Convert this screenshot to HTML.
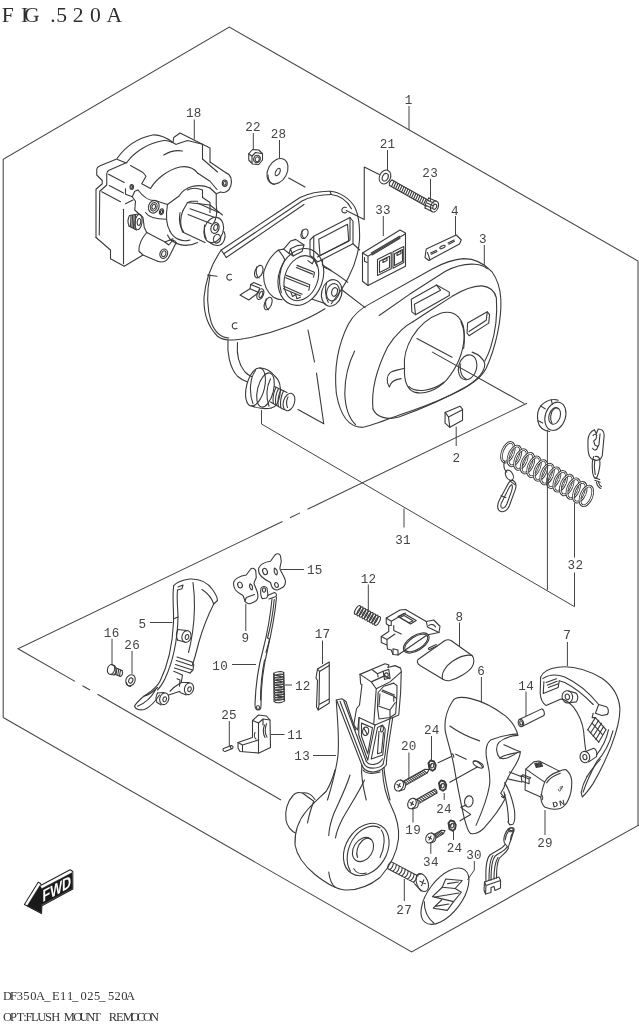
<!DOCTYPE html>
<html lang="en">
<head>
<meta charset="utf-8">
<title>FIG.520A OPT:FLUSH MOUNT REMOCON</title>
<style>
html,body{margin:0;padding:0;background:#fff;}
body{width:639px;height:1024px;overflow:hidden;position:relative;}
svg{position:absolute;left:0;top:0;display:block;filter:grayscale(1);}
.ln{vector-effect:non-scaling-stroke;fill:none;stroke:#3a3a3a;stroke-width:1.1;stroke-linecap:round;stroke-linejoin:round;}
.th{vector-effect:non-scaling-stroke;fill:none;stroke:#444;stroke-width:0.8;stroke-linecap:round;stroke-linejoin:round;}
.fr{fill:none;stroke:#444;stroke-width:1.05;stroke-linecap:butt;stroke-linejoin:miter;}
.ld{fill:none;stroke:#444;stroke-width:1;}
.wf{vector-effect:non-scaling-stroke;fill:#fff;stroke:#3a3a3a;stroke-width:1;stroke-linecap:round;stroke-linejoin:round;}
.ln *,.th *,.wf *,.fr *{vector-effect:non-scaling-stroke;}
.num{font-family:"Liberation Mono","DejaVu Sans Mono",monospace;font-size:12.6px;letter-spacing:0.3px;fill:#444;}
.ttl{font-family:"Liberation Serif","DejaVu Serif",serif;font-size:20px;fill:#2e2e2e;}
.ftr{font-family:"Liberation Serif","DejaVu Serif",serif;font-size:12px;fill:#333;}
</style>
</head>
<body>
<svg width="639" height="1024" viewBox="0 0 639 1024">
<rect x="0" y="0" width="639" height="1024" fill="#fff"/>

<!-- ===== TITLE / FOOTER TEXT ===== -->
<g id="titles">
<text class="ttl" transform="scale(1.08,1)" y="22.2" x="1.6 19.4 22.2 46.5 52.0 67.4 83.3 98.7">FIG.520A</text>
<text class="ftr" transform="scale(1.04,1)" y="1000.3" x="3.0 9.5 16.2 22.3 29.0 34.6 42.6 50.1 57.6 64.4 69.2 77.4 83.8 90.5 95.5 103.8 110.0 116.5 121.1">DF350A_E11_025_520A</text>
<text class="ftr" transform="scale(1.04,1)" y="1020.8" x="3.0 9.5 16.0 22.4 24.5 29.8 35.9 43.4 49.3 55.5 61.4 70.5 76.4 83.0 89.7 96.8 104.5 111.5 118.0 125.6 131.4 137.6 144.3">OPT:FLUSH MOUNT REMOCON</text>
</g>

<!-- ===== FRAME ===== -->
<g id="frame" class="fr">
<path d="M3.2 717.5 L3.2 159.3 L229.3 27 L638 261 L638 825.5"/>
<path d="M3.2 717.5 L411.6 952 L639 825"/>
<!-- inner triangle -->
<path d="M282.5 521.5 L18 648.7 L75 681.4"/>
<path d="M290 517.7 L300 512.9"/>
<path d="M307.5 509.3 L527 403.3"/>
<path d="M82.5 685.7 L90 690"/>
<path d="M97.5 694.3 L281 800"/>
</g>

<!-- part 18 : gear housing (frame A: origin 80,95 scale 1/4) -->
<g id="p18" class="ln" transform="translate(80,95) scale(0.25)">
<path d="M64 570 L64 377 L89 355 L89 342 L67 320 L67 297 Q68 288 78 284 L147 256 C170 222 215 176 290 160 C322 157 350 174 372 190"/>
<path d="M77 560 L79 385 L107 360 L107 315 Q108 305 116 301 L187 270"/>
<path d="M372 190 L375 170 L400 152 L520 212 L520 268"/>
<path d="M388 196 L430 182 L490 197 L490 256"/>
<path d="M150 258 L185 272"/>
<path d="M187 270 C215 230 270 192 335 182 C352 181 365 186 385 198"/>
<path d="M114 317 L177 350 M117 362 L174 392 M87 387 L162 427 M182 435 L212 420"/>
<path d="M174 457 L174 675"/>
<path d="M202 282 L252 310 L264 325 L247 355 L282 374"/>
<path d="M282 374 C305 335 350 300 400 288 C430 283 455 292 470 312"/>
<path d="M335 240 C360 225 385 220 410 224"/>
<path d="M470 312 L520 345 L548 378"/>
<path d="M490 256 L550 308"/>
<path d="M520 268 L585 312"/>
<path d="M585 312 C604 318 610 342 603 364 C597 384 580 394 562 388 L545 395"/>
<ellipse cx="579" cy="353" rx="10" ry="13"/>
<ellipse cx="579" cy="353" rx="5" ry="8"/>
<ellipse cx="207" cy="368" rx="7" ry="10"/>
<ellipse cx="207" cy="368" rx="3.5" ry="6"/>
<path d="M182 375 L182 397 L209 407 L222 425 L219 460 L252 490 L257 530 L267 550"/>
<path d="M209 407 L219 385 L232 380"/>
<!-- lower left block -->
<path d="M64 570 L122 620 L122 655 L177 685 L252 640"/>
<!-- knurled knob -->
<path d="M198 482 L232 476 M196 524 L226 540"/>
<path d="M198 482 C191 495 191 512 196 524"/>
<ellipse cx="234" cy="508" rx="14" ry="31" transform="rotate(8 234 508)"/>
<ellipse cx="236" cy="508" rx="7" ry="14" transform="rotate(8 236 508)"/>
<path d="M204 482 L202 527 M210 481 L208 530 M216 480 L214 533 M222 478 L220 536"/>
<!-- mid body -->
<path d="M232 380 C255 410 275 425 300 422"/>
<path d="M300 422 L350 438 L395 405"/>
<path d="M395 405 C420 368 470 350 520 372"/>
<path d="M350 438 C343 480 345 520 360 545"/>
<path d="M400 470 C395 500 400 530 415 548"/>
<path d="M430 380 C445 372 470 372 490 380 L490 410"/>
<path d="M520 372 L545 395 L545 440 C550 470 545 500 530 520"/>
<path d="M490 410 L520 430 L520 470"/>
<ellipse cx="295" cy="447" rx="21" ry="26" transform="rotate(20 295 447)"/>
<ellipse cx="295" cy="447" rx="13" ry="17" transform="rotate(20 295 447)"/>
<ellipse cx="295" cy="447" rx="7" ry="10" transform="rotate(20 295 447)"/>
<ellipse cx="326" cy="467" rx="8" ry="12" transform="rotate(15 326 467)"/>
<ellipse cx="326" cy="467" rx="4" ry="7" transform="rotate(15 326 467)"/>
<path d="M262 470 C275 490 300 497 345 497"/>
<!-- shaft -->
<path d="M412 462 L430 430 L520 440 L570 480"/>
<path d="M412 462 C400 490 400 520 410 548 L500 590"/>
<path d="M430 430 L445 425 L470 425"/>
<path d="M440 455 L540 490 M432 478 L525 515 M470 432 L555 470"/>
<ellipse cx="535" cy="540" rx="38" ry="52" transform="rotate(18 535 540)"/>
<ellipse cx="540" cy="532" rx="16" ry="22" transform="rotate(18 540 532)"/>
<ellipse cx="543" cy="530" rx="8" ry="12" transform="rotate(18 543 530)"/>
<path d="M498 520 C496 540 498 560 505 575"/>
<!-- ring under shaft -->
<path d="M360 545 C375 575 410 590 440 580"/>
<path d="M350 560 C365 595 420 615 470 590"/>
<path d="M575 545 C585 560 580 590 560 600 C545 605 530 600 520 590"/>
<ellipse cx="548" cy="575" rx="14" ry="18" transform="rotate(20 548 575)"/>
<!-- lower boss -->
<path d="M267 550 C248 572 234 600 236 625 L252 640 L310 665"/>
<path d="M267 550 L340 588 L372 575"/>
<path d="M310 665 C330 672 350 665 360 640 L385 590"/>
<path d="M340 588 L355 600 L372 580"/>
<path d="M360 580 C375 580 385 585 385 595"/>
<ellipse cx="335" cy="635" rx="15" ry="19" transform="rotate(20 335 635)"/>
<ellipse cx="335" cy="635" rx="8" ry="12" transform="rotate(20 335 635)"/>
</g>

<!-- back plate with hub (frame D: origin 200,190 scale 1/4) -->
<g id="plate" class="ln" transform="translate(200,190) scale(0.25)">
<path d="M85 240 L400 30 C440 12 480 4 520 5 C560 8 600 35 620 70 C634 100 640 150 638 200 C632 290 585 380 525 455"/>
<path d="M85 240 C50 290 22 360 16 430 C14 490 30 545 70 585 C95 605 130 602 180 594 C300 572 420 525 500 475"/>
<path d="M95 255 L408 44 C440 28 480 18 525 18"/>
<path d="M105 270 L416 58"/>
<path d="M85 240 L105 270"/>
<path d="M520 5 L525 18 C560 22 590 45 606 75"/>
<path d="M40 340 C28 400 26 470 45 530 C60 570 85 590 115 592"/>
<path d="M30 340 L68 345"/>
<path d="M125 338 C112 334 104 344 108 354 C112 362 120 362 126 358"/>
<path d="M147 532 C134 528 126 538 130 549 C134 557 142 557 148 553"/>
<path d="M585 70 C573 66 565 75 568 85 C572 93 580 93 586 89"/>
<!-- display window -->
<path d="M455 185 L600 110 L612 125 L612 215 L470 288 L455 272 Z"/>
<path d="M475 197 L590 137 L595 205 L480 262 Z"/>
<path d="M600 110 L600 200 L470 268"/>
<path d="M455 272 L440 262 L440 200 L455 185"/>
<path d="M490 280 L490 300 L525 322"/>
<path d="M612 215 L639 240"/>
<!-- holes -->
<ellipse cx="418" cy="175" rx="13" ry="20" transform="rotate(25 418 175)"/>
<path d="M410 160 C404 172 408 188 418 194"/>
<!-- key -->
<path d="M160 420 L200 395 L235 410 L195 440 Z"/>
<path d="M200 395 L203 378 L238 392 L235 410"/>
<path d="M203 378 L215 370 L245 383"/>
</g>

<!-- hub + bushing (frame X: origin 250,230 scale 100/639) -->
<g id="hub" class="ln" transform="translate(250,230) scale(0.1565)">
<ellipse cx="325" cy="300" rx="140" ry="186" transform="rotate(20 325 300)"/>
<ellipse cx="328" cy="308" rx="105" ry="148" transform="rotate(20 328 308)"/>
<path d="M215 122 L260 70 L292 60 L345 96 L332 138 L276 166 L250 150 L215 122 Z"/>
<path d="M250 150 L258 120 L300 100 L345 96 M258 120 L276 166"/>
<path d="M182 128 C150 150 110 200 88 268 C82 330 100 390 150 430 C170 442 190 446 205 446"/>
<path d="M215 122 L182 128 C200 150 215 170 222 190"/>
<path d="M222 190 C190 250 180 330 200 400"/>
<path d="M300 226 L412 270 L406 302 M296 240 L400 282 M232 290 L382 350 L376 386 M228 305 L372 362 M216 360 L332 410 M214 375 L322 420"/>
<path d="M370 196 L398 216 L410 190 L430 232 M262 400 L272 425 L292 412 L300 440 L322 430"/>
<!-- arm to bushing -->
<path d="M470 236 C510 252 570 290 625 335"/>
<path d="M398 442 L480 470"/>
<ellipse cx="522" cy="402" rx="64" ry="86" transform="rotate(15 522 402)"/>
<ellipse cx="530" cy="398" rx="40" ry="56" transform="rotate(15 530 398)"/>
<ellipse cx="540" cy="396" rx="18" ry="28" transform="rotate(15 540 396)"/>
<path d="M490 335 C478 370 480 430 500 462"/>
<!-- holes left of hub -->
<ellipse cx="56" cy="266" rx="24" ry="42" transform="rotate(22 56 266)"/>
<path d="M44 235 C34 262 40 295 58 306"/>
<ellipse cx="66" cy="410" rx="20" ry="36" transform="rotate(22 66 410)"/>
<ellipse cx="70" cy="412" rx="10" ry="22" transform="rotate(22 70 412)"/>
<ellipse cx="116" cy="470" rx="22" ry="42" transform="rotate(22 116 470)"/>
<path d="M104 440 C94 466 100 498 118 510"/>
</g>

<!-- cover 3 (frame E: origin 320,240 scale 180/639) -->
<g id="cover3" class="ln" transform="translate(320,240) scale(0.2817)">
<path d="M180 225 L400 102 C440 80 472 68 510 66 C550 66 585 85 610 112 C630 140 640 170 642 210 C645 280 625 380 590 455 C570 495 520 525 464 550 C400 580 330 605 284 620 C230 640 180 660 150 665 C105 665 72 625 58 545 C50 465 60 380 100 300 C120 262 150 240 180 225 Z"/>
<path d="M210 268 L319 192 L444 112 C480 92 520 84 550 86 C570 88 585 94 594 102"/>
<path d="M330 290 L384 255 L469 200 C510 175 545 162 575 163 C600 166 620 180 626 205 C630 260 622 330 606 380 C598 405 590 420 585 430"/>
<path d="M123 394 C100 440 88 490 88 545 C90 600 105 635 126 655"/>
<!-- recess boundary -->
<path d="M188 600 C182 540 200 460 240 380 C270 330 310 300 330 290"/>
<path d="M188 600 C200 630 240 640 280 628 C360 600 450 560 520 520 C560 495 585 465 585 440 C580 420 560 405 540 398"/>

<!-- big opening -->
<path d="M300 455 C292 385 340 292 428 260 C485 245 515 285 512 345 C508 405 485 455 448 498 C415 533 370 550 335 540 C310 530 298 500 300 455 Z"/>
<path d="M500 290 C512 315 515 350 510 385"/>
<path d="M300 455 C280 462 262 462 250 470 C236 482 235 505 246 522 C250 505 262 495 288 492"/>
<path d="M315 520 C340 545 400 535 440 505"/>
<!-- small circle -->
<ellipse cx="524" cy="452" rx="32" ry="45" transform="rotate(15 524 452)"/>
<path d="M498 440 C495 465 503 488 520 494"/>
<!-- window 1 -->
<path d="M324 210 L414 160 L459 185 L459 197 L339 265 L326 255 Z"/>
<path d="M414 160 L428 178 L335 228 L339 265"/>
<!-- window 2 -->
<path d="M524 295 L594 255 L602 265 L599 295 L529 340 L522 330 Z"/>
<path d="M594 255 L590 285 L529 325"/>
<!-- leaders through opening -->
<path d="M344 350 L469 416"/>
<path d="M399 398 L724 580"/>
<path d="M75 175 L160 240"/>
</g>
<!-- part 2 cap + ring 31 (frame F: origin 400,240 scale 180/639) -->
<g id="cap2" class="ln" transform="translate(400,240) scale(0.2817)">
<path d="M160 612 L213 590 L222 600 L222 640 L177 665 L160 650 Z"/>
<path d="M160 612 L172 628 L222 603 M172 628 L177 665"/>
</g>

<!-- parts 21, 23, 33, 4 (frame G: origin 340,130 scale 1/4) -->
<g id="small_top" class="ln" transform="translate(340,130) scale(0.25)">
<!-- washer 21 -->
<ellipse cx="180" cy="188" rx="22" ry="29" transform="rotate(25 180 188)"/>
<ellipse cx="181" cy="189" rx="11" ry="16" transform="rotate(25 181 189)"/>
<path d="M157 178 L97 148 L97 358 L25 322"/>
<!-- screw 23 -->
<path d="M208 200 L355 282 M198 222 L345 305"/>
<path d="M208 200 C200 205 196 214 198 222"/>
<path d="M216 205 L206 226 M224 209 L214 231 M232 214 L222 235 M240 218 L230 240 M248 223 L238 244 M256 227 L246 249 M264 232 L254 253 M272 236 L262 258 M280 241 L270 262 M288 245 L278 267 M296 250 L286 271 M304 254 L294 276 M312 259 L302 280 M320 263 L310 285 M328 268 L318 289 M336 272 L326 294 M344 277 L334 298"/>
<path d="M355 272 L385 285 M340 312 L368 326"/>
<path d="M355 272 C345 285 340 300 340 312"/>
<ellipse cx="378" cy="306" rx="15" ry="23" transform="rotate(22 378 306)"/>
<ellipse cx="379" cy="307" rx="7" ry="11" transform="rotate(22 379 307)"/>
<path d="M352 282 L375 292 M348 292 L370 302 M345 302 L368 313"/>
<!-- part 33 switch panel -->
<path d="M90 492 L240 400 L262 412 L262 545 L112 622 L90 605 Z"/>
<path d="M90 492 L112 505 L262 415 M112 505 L112 622"/>
<path d="M125 492 L238 425 M128 500 L240 433"/>
<path d="M150 518 L205 490 L205 555 L150 582 Z"/>
<path d="M212 487 L255 466 L255 530 L212 553 Z"/>
<path d="M158 525 L198 505 L198 550 L158 570 Z"/>
<path d="M218 495 L250 478 L250 525 L218 542 Z"/>
<path d="M172 520 L188 512 L188 522 L172 530 Z M228 492 L244 484 L244 494 L228 502 Z"/>
<path d="M98 510 L98 525 L108 530"/>
<!-- part 4 label plate -->
<path d="M345 476 L465 420 L485 440 L478 456 L355 522 L340 510 Z"/>
<path d="M350 490 L360 520"/>
<path d="M362 492 L386 481 M432 452 L456 440"/>
<path d="M365 497 L388 486 M435 457 L458 445"/>
<ellipse cx="410" cy="468" rx="12" ry="5" transform="rotate(-27 410 468)"/>
</g>
<!-- parts 22 nut, 28 washer (frame B: origin 190,100 scale 1/4) -->
<g id="p22_28" class="ln" transform="translate(190,100) scale(0.25)">
<path d="M235 215 L250 198 L275 200 L290 215 L290 240 L275 258 L250 256 L235 240 Z"/>
<path d="M235 215 L248 225 L248 250 M248 225 L262 210 L290 215"/>
<ellipse cx="268" cy="236" rx="13" ry="15" transform="rotate(20 268 236)"/>
<ellipse cx="269" cy="237" rx="8" ry="10" transform="rotate(20 269 237)"/>
<ellipse cx="350" cy="285" rx="38" ry="54" transform="rotate(28 350 285)"/>
<ellipse cx="351" cy="288" rx="8" ry="16" transform="rotate(28 351 288)"/>
<path d="M312 300 C312 320 322 335 338 338"/>
<path d="M395 312 L460 348"/>
</g>

<!-- connector + cable (frame H: origin 200,330 scale 1/4) -->
<g id="connector" class="ln" transform="translate(200,330) scale(0.25)">
<path d="M112 40 C108 90 118 150 150 185 C165 198 180 205 190 208"/>
<path d="M150 50 C146 95 156 140 180 168 C190 178 200 184 206 186"/>
<ellipse cx="222" cy="228" rx="36" ry="78" transform="rotate(14 222 228)"/>
<path d="M238 152 C258 150 285 165 300 185 M205 303 C225 312 262 318 285 312"/>
<path d="M222 162 C200 190 195 250 212 295"/>
<ellipse cx="262" cy="240" rx="32" ry="70" transform="rotate(14 262 240)"/>
<path d="M300 185 C318 200 325 225 320 258 C315 290 302 310 285 312"/>
<path d="M282 195 C266 228 264 270 276 305"/>
<path d="M298 226 L348 250 M282 288 L335 318"/>
<path d="M304 230 C294 250 290 272 293 293 M314 234 C304 254 300 278 303 298 M324 239 C314 259 310 283 313 304 M334 244 C324 264 320 288 323 310"/>
<ellipse cx="356" cy="288" rx="22" ry="36" transform="rotate(18 356 288)"/>
<path d="M352 268 C345 282 345 298 350 310"/>
<!-- phantom housing lines -->
<path d="M432 0 L458 128 M466 172 L495 375 L392 318"/>
</g>

<!-- lanyard 32 (frame I: origin 480,410 scale 159/639) -->
<g id="lanyard" transform="translate(480,410) scale(0.2488)">
<g fill="none" stroke-linecap="round">
<ellipse cx="112.0" cy="170.0" rx="22" ry="42" transform="rotate(22 112.0 170.0)" stroke="#3a3a3a" stroke-width="10.5"/>
<ellipse cx="112.0" cy="170.0" rx="22" ry="42" transform="rotate(22 112.0 170.0)" stroke="#fff" stroke-width="3.6"/>
<ellipse cx="138.3" cy="184.6" rx="22" ry="42" transform="rotate(22 138.3 184.6)" stroke="#3a3a3a" stroke-width="10.5"/>
<ellipse cx="138.3" cy="184.6" rx="22" ry="42" transform="rotate(22 138.3 184.6)" stroke="#fff" stroke-width="3.6"/>
<ellipse cx="164.6" cy="199.2" rx="22" ry="42" transform="rotate(22 164.6 199.2)" stroke="#3a3a3a" stroke-width="10.5"/>
<ellipse cx="164.6" cy="199.2" rx="22" ry="42" transform="rotate(22 164.6 199.2)" stroke="#fff" stroke-width="3.6"/>
<ellipse cx="190.9" cy="213.8" rx="22" ry="42" transform="rotate(22 190.9 213.8)" stroke="#3a3a3a" stroke-width="10.5"/>
<ellipse cx="190.9" cy="213.8" rx="22" ry="42" transform="rotate(22 190.9 213.8)" stroke="#fff" stroke-width="3.6"/>
<ellipse cx="217.2" cy="228.4" rx="22" ry="42" transform="rotate(22 217.2 228.4)" stroke="#3a3a3a" stroke-width="10.5"/>
<ellipse cx="217.2" cy="228.4" rx="22" ry="42" transform="rotate(22 217.2 228.4)" stroke="#fff" stroke-width="3.6"/>
<ellipse cx="243.5" cy="243.0" rx="22" ry="42" transform="rotate(22 243.5 243.0)" stroke="#3a3a3a" stroke-width="10.5"/>
<ellipse cx="243.5" cy="243.0" rx="22" ry="42" transform="rotate(22 243.5 243.0)" stroke="#fff" stroke-width="3.6"/>
<ellipse cx="269.8" cy="257.6" rx="22" ry="42" transform="rotate(22 269.8 257.6)" stroke="#3a3a3a" stroke-width="10.5"/>
<ellipse cx="269.8" cy="257.6" rx="22" ry="42" transform="rotate(22 269.8 257.6)" stroke="#fff" stroke-width="3.6"/>
<ellipse cx="296.1" cy="272.2" rx="22" ry="42" transform="rotate(22 296.1 272.2)" stroke="#3a3a3a" stroke-width="10.5"/>
<ellipse cx="296.1" cy="272.2" rx="22" ry="42" transform="rotate(22 296.1 272.2)" stroke="#fff" stroke-width="3.6"/>
<ellipse cx="322.4" cy="286.8" rx="22" ry="42" transform="rotate(22 322.4 286.8)" stroke="#3a3a3a" stroke-width="10.5"/>
<ellipse cx="322.4" cy="286.8" rx="22" ry="42" transform="rotate(22 322.4 286.8)" stroke="#fff" stroke-width="3.6"/>
<ellipse cx="348.7" cy="301.4" rx="22" ry="42" transform="rotate(22 348.7 301.4)" stroke="#3a3a3a" stroke-width="10.5"/>
<ellipse cx="348.7" cy="301.4" rx="22" ry="42" transform="rotate(22 348.7 301.4)" stroke="#fff" stroke-width="3.6"/>
<ellipse cx="375.0" cy="316.0" rx="22" ry="42" transform="rotate(22 375.0 316.0)" stroke="#3a3a3a" stroke-width="10.5"/>
<ellipse cx="375.0" cy="316.0" rx="22" ry="42" transform="rotate(22 375.0 316.0)" stroke="#fff" stroke-width="3.6"/>
<ellipse cx="401.3" cy="330.6" rx="22" ry="42" transform="rotate(22 401.3 330.6)" stroke="#3a3a3a" stroke-width="10.5"/>
<ellipse cx="401.3" cy="330.6" rx="22" ry="42" transform="rotate(22 401.3 330.6)" stroke="#fff" stroke-width="3.6"/>
<ellipse cx="427.6" cy="345.2" rx="22" ry="42" transform="rotate(22 427.6 345.2)" stroke="#3a3a3a" stroke-width="10.5"/>
<ellipse cx="427.6" cy="345.2" rx="22" ry="42" transform="rotate(22 427.6 345.2)" stroke="#fff" stroke-width="3.6"/>
</g>
<g class="ln">
<path d="M100 205 C92 220 96 240 108 250"/>
<ellipse cx="118" cy="262" rx="14" ry="22" transform="rotate(-30 118 262)"/>
<path d="M132 282 C145 290 148 305 140 325 L118 385 C110 405 92 415 78 405 C68 395 70 378 78 362 L112 298 C118 288 126 282 132 282 Z"/>
<path d="M128 300 C132 308 130 318 126 328 L108 378 C102 392 92 398 86 392 C82 386 84 376 90 366 L118 310 C122 304 125 300 128 300 Z"/>
<path d="M120 285 L140 300 M84 345 L104 352"/>
</g>
</g>

<!-- ring nut + key clip (frame V: origin 520,385 scale 119/639) -->
<g id="pV" class="ln" transform="translate(520,385) scale(0.1862)">
<ellipse cx="190" cy="168" rx="54" ry="78" transform="rotate(18 190 168)"/>
<ellipse cx="186" cy="166" rx="30" ry="46" transform="rotate(18 186 166)"/>
<path d="M172 205 C160 185 162 150 180 130 C190 122 200 122 206 128"/>
<path d="M205 82 C180 72 145 82 118 105 C98 125 90 160 96 195 C102 225 125 245 160 250"/>
<path d="M168 80 L174 104 M98 192 L122 204 M110 112 L135 128"/>
<!-- key clip -->
<path d="M365 292 C368 268 382 248 400 240 L410 262 L420 236 C438 236 452 248 452 270 L442 378 C438 395 425 404 408 405 L384 396 C372 385 365 360 365 335 Z"/>
<path d="M392 272 C398 262 408 262 412 270 L408 290 L396 300 L402 322 L418 330 M430 262 L424 320 L412 345 C405 352 395 350 390 340"/>
<path d="M396 384 C388 400 386 430 390 470 C394 495 404 505 412 498 C424 470 432 430 428 398 C424 388 414 382 404 384"/>
<path d="M402 400 C398 425 398 455 404 480"/>
<path d="M400 498 L428 508 M402 512 L430 522"/>
<path d="M410 522 C414 540 424 552 434 556 M422 524 C426 536 432 544 438 546"/>
</g>

<!-- part 5, 16, 26 (frame J: origin 90,565 scale 1/4) -->
<g id="p5" class="ln" transform="translate(90,565) scale(0.25)">
<path d="M335 82 C345 70 370 60 400 56 C440 54 470 70 490 98 C502 115 510 130 510 142 L495 156 C488 135 470 112 448 98"/>
<path d="M335 82 C328 130 336 180 334 230 C330 320 312 400 280 465 C265 495 240 508 215 525 C198 540 182 555 178 565 C182 578 200 582 218 578 C240 568 262 545 278 520"/>
<path d="M350 100 C346 140 352 180 352 208 L338 214"/>
<path d="M352 88 L372 80 L368 95 L350 100"/>
<path d="M495 156 C475 195 452 250 435 310 C425 350 415 385 410 398"/>
<path d="M412 70 C420 130 420 200 410 270 C404 310 398 335 394 350"/>
<path d="M352 208 C350 300 330 390 300 455 C290 475 280 490 270 500"/>
<path d="M215 525 C235 520 255 505 270 490"/>
<path d="M190 565 C215 555 245 530 262 500"/>
<!-- upper boss -->
<path d="M352 258 L385 262 M350 300 L378 308"/>
<path d="M352 258 C345 270 345 288 350 300"/>
<ellipse cx="386" cy="286" rx="18" ry="24" transform="rotate(15 386 286)"/>
<ellipse cx="388" cy="288" rx="7" ry="10" transform="rotate(15 388 288)"/>
<!-- ribs -->
<path d="M348 368 L408 388 M345 382 L412 404 M342 398 L410 420 M338 412 L400 432"/>
<path d="M408 388 L415 398 L412 420 L400 432"/>
<path d="M335 425 L370 440 L365 470 L335 490"/>
<path d="M348 455 L360 460 L358 485"/>
<!-- lower bosses -->
<path d="M365 470 L395 470 M360 510 L385 520"/>
<ellipse cx="396" cy="495" rx="18" ry="24" transform="rotate(15 396 495)"/>
<ellipse cx="398" cy="497" rx="7" ry="10" transform="rotate(15 398 497)"/>
<path d="M270 512 L295 510 M268 550 L285 560"/>
<path d="M270 512 C263 525 263 540 268 550"/>
<ellipse cx="297" cy="535" rx="18" ry="24" transform="rotate(15 297 535)"/>
<ellipse cx="299" cy="537" rx="7" ry="10" transform="rotate(15 299 537)"/>
<path d="M315 520 L360 505 M335 490 L320 505"/>
<!-- screw 16 -->
<ellipse cx="84" cy="418" rx="14" ry="20" transform="rotate(15 84 418)"/>
<path d="M84 398 L98 402 C106 410 106 430 98 440 L84 438"/>
<path d="M100 410 L128 422 M96 436 L122 446"/>
<path d="M128 422 C132 430 130 440 122 446"/>
<path d="M108 414 L104 438 M115 417 L111 441 M122 420 L118 444"/>
<!-- washer 26 -->
<ellipse cx="162" cy="461" rx="18" ry="23" transform="rotate(25 162 461)"/>
<ellipse cx="163" cy="462" rx="8" ry="11" transform="rotate(25 163 462)"/>
<path d="M146 470 C148 480 155 486 163 486"/>
</g>

<!-- parts 9,15,10,12,17,11,25 (frame K: origin 205,550 scale 1/4) -->
<g id="pK" class="ln" transform="translate(205,550) scale(0.25)">
<path d="M115 128 C122 112 140 104 165 100 L183 76 C190 70 200 74 203 84 L205 110 C202 120 196 126 196 134 C200 148 210 160 212 182 C212 196 206 204 196 208 L180 215 C168 215 160 208 158 198 L152 182 C142 176 130 170 122 160 C115 150 113 138 115 128 Z"/>
<ellipse cx="140" cy="140" rx="9" ry="12" transform="rotate(-20 140 140)"/>
<path d="M180 135 C176 145 180 158 188 160 C192 150 190 140 180 135 Z"/>
<path d="M160 205 L165 190 L198 178"/>
<path d="M215 72 C222 56 240 48 262 45 L280 20 C288 12 298 14 302 24 L305 45 C304 58 298 66 300 76 C306 92 318 106 322 124 C322 140 316 148 306 152 L290 160 C278 160 270 154 266 144 L262 130 C250 124 236 116 226 106 C216 96 213 82 215 72 Z"/>
<ellipse cx="240" cy="86" rx="9" ry="13" transform="rotate(-20 240 86)"/>
<path d="M278 72 C274 84 278 98 287 100 C291 90 289 78 278 72 Z"/>
<ellipse cx="286" cy="140" rx="7" ry="10" transform="rotate(-20 286 140)"/>
<path d="M224 152 C230 144 242 144 248 152 L252 182 L246 192 L230 195 C224 190 220 170 224 152 Z"/>
<ellipse cx="236" cy="160" rx="6" ry="9"/>
<path d="M250 182 L278 170 C285 172 288 180 284 186 L256 196"/>
<path d="M268 195 C262 260 250 330 232 400 C215 460 203 520 200 618 C200 632 206 640 213 640 C220 640 224 632 224 622 C224 530 232 470 250 400 C266 330 280 260 286 190"/>
<path d="M277 198 C272 250 262 310 250 352 L258 356 C254 375 248 395 244 410"/>
<path d="M238 440 C228 490 222 540 222 600"/>
<ellipse cx="212" cy="630" rx="6" ry="8"/>
<ellipse cx="295.0" cy="494" rx="20" ry="7" transform="rotate(-8 295 494)"/>
<ellipse cx="295.3" cy="504" rx="20" ry="7" transform="rotate(-8 295 504)"/>
<ellipse cx="295.6" cy="514" rx="20" ry="7" transform="rotate(-8 295 514)"/>
<ellipse cx="295.9" cy="524" rx="20" ry="7" transform="rotate(-8 295 524)"/>
<ellipse cx="296.2" cy="534" rx="20" ry="7" transform="rotate(-8 295 534)"/>
<ellipse cx="296.5" cy="544" rx="20" ry="7" transform="rotate(-8 295 544)"/>
<ellipse cx="296.8" cy="554" rx="20" ry="7" transform="rotate(-8 295 554)"/>
<ellipse cx="297.1" cy="564" rx="20" ry="7" transform="rotate(-8 295 564)"/>
<ellipse cx="297.4" cy="574" rx="20" ry="7" transform="rotate(-8 295 574)"/>
<ellipse cx="297.7" cy="584" rx="20" ry="7" transform="rotate(-8 295 584)"/>
<ellipse cx="298.0" cy="594" rx="20" ry="7" transform="rotate(-8 295 594)"/>
<ellipse cx="298.3" cy="604" rx="20" ry="7" transform="rotate(-8 295 604)"/>
<path d="M275 492 L276 606 M315 490 L318 604"/>
<path d="M450 476 L497 448 L497 612 L453 640 L446 628 L450 522 L444 512 Z"/>
<path d="M450 476 L458 486 L497 462 M458 486 L456 618 L453 640 M456 618 L497 596"/>
<path d="M190 682 L214 660 L246 664 L260 680 L262 790 L216 812 L140 806 L132 792 L132 770 L190 750 Z"/>
<path d="M190 682 L214 692 L214 812 M214 692 L232 676 L260 680 M232 676 L232 700"/>
<path d="M132 770 L150 780 L214 760 M150 780 L150 806"/>
<path d="M238 700 C232 715 232 735 240 750 M246 695 C240 712 240 735 248 748"/>
<path d="M200 730 C196 740 198 752 204 756"/>
<path d="M74 794 L106 782 C112 782 114 790 110 794 L80 806 C72 806 70 798 74 794 Z"/>
<path d="M104 783 C100 788 102 794 108 795"/>
</g>

<!-- part 13 upper (frame U: origin 335,655 scale 1/8) -->
<g id="p13u" class="ln" transform="translate(335,655) scale(0.125)">
<!-- top box -->
<path d="M200 155 L400 70 L432 80 L422 100 L480 85 L525 105 L530 130 L525 300 L510 480 L440 510 L320 560"/>
<path d="M200 155 L205 232 L216 236 L196 400 L172 430 L150 560 L182 600 L192 500 L320 560"/>
<path d="M200 155 L290 215 L400 165 L440 190 M290 215 L330 270 L440 215 L530 135"/>
<path d="M330 270 L310 552"/>
<path d="M300 120 L340 150 L345 175 M340 150 L385 130"/>
<path d="M385 130 L430 115 L440 182 L396 196 Z"/>
<ellipse cx="411" cy="160" rx="15" ry="17"/>
<path d="M345 300 L390 250 L470 225 L496 246 L495 330 L485 470 L440 500 L352 512 L340 420 Z"/>
<path d="M375 290 L470 330 L490 346 M380 280 L475 320 M470 330 L470 370"/>
<path d="M350 410 L440 440 L482 380 M440 440 L440 500"/>
<path d="M360 310 L352 400"/>
<!-- V arms -->
<path d="M10 360 C16 480 36 640 24 800 C12 920 -30 1060 -60 1160"/>
<path d="M10 360 L55 350 L88 372 L130 500 L165 600"/>
<path d="M15 366 L215 880 C225 915 250 932 290 935 C330 938 370 920 392 900"/>
<path d="M40 370 L232 870 M70 366 L250 850"/>
<path d="M232 870 C245 895 270 905 300 905 C340 905 370 895 385 872"/>
<path d="M250 850 C262 870 285 878 310 875 C345 870 368 855 380 830"/>
<path d="M440 510 L420 640 L400 800 L385 872"/>
<path d="M462 500 L440 640 L416 800 L410 880 L392 900"/>
<path d="M392 900 C395 960 410 1040 440 1160"/>
<path d="M215 880 C205 960 225 1060 250 1160"/>
<path d="M192 500 L190 640 L262 842 L320 560"/>
<path d="M212 545 L300 582 L262 790 L212 650 Z"/>
<ellipse cx="245" cy="610" rx="24" ry="34" transform="rotate(12 245 610)"/>
<path d="M232 588 L258 634"/>
<path d="M340 580 L380 560 L402 592 L382 800 L290 832 Z"/>
<path d="M352 610 L340 790 L372 780 L388 620"/>
<ellipse cx="376" cy="592" rx="11" ry="24" transform="rotate(8 376 592)"/>
</g>
<!-- part 13 lower (frame M: origin 270,770 scale 1/4) -->
<g id="p13l" class="ln" transform="translate(270,770) scale(0.25)">
<path d="M450 0 C452 50 462 100 485 145 C505 185 518 230 514 275 C508 330 480 385 440 430 C400 462 350 482 300 480 C260 476 220 450 180 418 C140 385 108 345 100 300 C98 250 115 200 145 165 C170 135 205 105 225 85 C240 60 252 30 260 0"/>
<path d="M175 125 L130 92 C115 88 100 92 92 102 C70 125 58 165 64 200 C68 225 85 245 102 252"/>
<path d="M130 92 C150 88 168 100 180 118"/>
<path d="M320 20 C305 70 275 130 255 175 C242 210 236 240 235 262"/>
<path d="M378 40 C355 90 315 150 290 195 C275 225 265 250 262 272"/>
<path d="M175 125 C162 160 154 190 150 212"/>
<path d="M372 0 C380 14 410 18 440 8"/>
<ellipse cx="385" cy="318" rx="82" ry="112" transform="rotate(32 385 318)"/>
<path d="M322 405 C300 370 305 310 340 265 C370 228 415 215 440 232"/>
<path d="M335 395 C345 412 365 418 385 412"/>
<ellipse cx="372" cy="318" rx="38" ry="52" transform="rotate(32 372 318)"/>
<path d="M350 350 C342 330 350 300 370 282 C382 272 395 270 402 278"/>
<path d="M235 408 C238 435 246 458 262 470"/>
<path d="M445 240 C462 262 460 310 440 350"/>
</g>

<!-- upper spring 12, part 8 (frame N: origin 340,560 scale 1/4) -->
<g id="pN" class="ln" transform="translate(340,560) scale(0.25)">
<ellipse cx="70.0" cy="200.0" rx="8" ry="20" transform="rotate(30 70.0 200.0)"/>
<ellipse cx="80.0" cy="205.5" rx="8" ry="20" transform="rotate(30 80.0 205.5)"/>
<ellipse cx="90.0" cy="211.0" rx="8" ry="20" transform="rotate(30 90.0 211.0)"/>
<ellipse cx="100.0" cy="216.5" rx="8" ry="20" transform="rotate(30 100.0 216.5)"/>
<ellipse cx="110.0" cy="222.0" rx="8" ry="20" transform="rotate(30 110.0 222.0)"/>
<ellipse cx="120.0" cy="227.5" rx="8" ry="20" transform="rotate(30 120.0 227.5)"/>
<ellipse cx="130.0" cy="233.0" rx="8" ry="20" transform="rotate(30 130.0 233.0)"/>
<ellipse cx="140.0" cy="238.5" rx="8" ry="20" transform="rotate(30 140.0 238.5)"/>
<ellipse cx="150.0" cy="244.0" rx="8" ry="20" transform="rotate(30 150.0 244.0)"/>
<path d="M185 232 L240 200 L262 198 L345 246 L375 240 L400 265 L396 290 L348 300 L232 380 L212 378 L205 360 L190 356 L188 340 L165 330 L165 306 L195 286 L195 262 L185 255 Z"/>
<path d="M185 232 L205 245 L262 212 M205 245 L205 262 L195 262"/>
<path d="M232 226 L256 214 L305 242 L282 256 Z M240 230 L256 222 L292 243 L276 251 Z"/>
<path d="M215 262 L215 282 L245 296 M165 306 L188 318 L188 340 M188 318 L220 296"/>
<path d="M345 246 L350 268 L396 290 M355 262 C365 255 378 258 382 268"/>
<path d="M212 378 L212 355 L232 360 L232 380"/>
<ellipse cx="305" cy="332" rx="58" ry="30" transform="rotate(-33 305 332)"/>
<ellipse cx="305" cy="332" rx="52" ry="25" transform="rotate(-33 305 332)"/>
<path d="M312 398 L420 322 C428 318 436 318 444 322 L528 382 C538 392 538 412 528 428 C515 448 470 475 440 482 C428 484 418 482 410 476 L320 422 C310 415 306 405 312 398 Z"/>
<path d="M410 476 C405 455 420 425 450 405 C480 385 510 378 528 382"/>
<path d="M355 352 L385 338 M358 358 L388 344 M355 352 C352 356 354 358 358 358"/>
</g>

<!-- part 6 (frame P: origin 435,690 scale 100/639) -->
<g id="p6" class="ln" transform="translate(435,690) scale(0.1565)">
<path d="M130 55 C150 45 190 46 230 55 C300 72 380 112 450 165 C490 200 520 245 530 290 C490 292 440 308 408 335 C388 360 388 405 415 435 C440 445 480 432 525 400 L545 395 C545 425 525 465 495 510 C470 550 450 590 440 625 L420 660 L450 692 C420 750 370 820 310 885 C285 910 250 925 225 915 C205 895 195 850 185 810 C165 720 140 600 120 480 C105 400 80 330 66 265 C58 200 75 130 110 75 C116 65 122 59 130 55 Z"/>
<path d="M95 230 C140 262 210 300 285 325"/>
<path d="M525 282 C470 285 400 300 355 320 C325 345 322 400 332 450 C345 500 355 560 348 610 C335 690 300 780 262 865"/>
<path d="M440 350 L520 385 L545 395 M415 435 C430 420 470 410 520 402"/>
<path d="M445 592 C475 640 495 700 508 770 C512 810 508 845 498 858 L478 862 L465 842"/>
<path d="M440 650 C455 700 468 760 470 840"/>
<path d="M425 680 L440 690 L448 668"/>
<ellipse cx="276" cy="476" rx="36" ry="17" transform="rotate(28 276 476)"/>
<path d="M245 455 C262 450 295 470 305 495"/>
<ellipse cx="216" cy="712" rx="27" ry="36" transform="rotate(10 216 712)"/>
<!-- leaders from washers -->
<path d="M20 465 L105 425 M132 410 L200 442 M95 590 L270 492"/>
<path d="M105 410 C112 405 120 410 120 430"/>
<path d="M200 735 L165 750 L228 795 L160 836"/>
<!-- rod to switch -->
<!-- wire bottom -->
<path d="M468 905 C455 920 450 940 448 958 M505 900 C492 915 484 938 482 958"/>
<ellipse cx="488" cy="893" rx="18" ry="12" transform="rotate(-20 488 893)"/>
</g>

<!-- parts 7, 14, 29 (frame Q: origin 499,630 scale 140/639) -->
<g id="pQ" class="ln" transform="translate(499,630) scale(0.2191)">
<!-- part 7 -->
<path d="M190 215 C200 190 230 175 270 170 C330 162 400 180 470 220 C520 255 548 300 552 360 C552 420 535 470 512 530 C490 585 460 650 430 700 C410 730 395 750 380 762 L375 742 C380 715 390 690 402 668"/>
<path d="M190 215 L188 290 C190 315 200 335 215 345 L280 316 C300 312 320 330 340 352 C365 385 380 420 386 460 C390 500 392 530 396 548"/>
<path d="M200 222 C225 205 260 200 300 215 C350 238 410 285 455 340"/>
<path d="M205 235 L202 290 L270 262 L275 232 M215 240 L262 222 M220 252 L265 234 M225 262 L268 246"/>
<path d="M275 232 L300 240 C330 255 380 290 430 340"/>
<path d="M455 340 L490 350 C500 355 502 375 495 385 L470 390 M455 340 L440 380 L470 390"/>
<path d="M520 460 C505 520 475 570 445 602 C425 640 400 690 384 740"/>
<path d="M500 455 C490 500 470 540 445 570"/>
<path d="M402 668 C420 640 440 615 462 590"/>
<!-- upper boss -->
<ellipse cx="312" cy="305" rx="24" ry="28" transform="rotate(-10 312 305)"/>
<ellipse cx="312" cy="305" rx="10" ry="13" transform="rotate(-10 312 305)"/>
<path d="M318 278 L352 288 C362 298 362 318 352 328 L322 332"/>
<!-- ribs -->
<path d="M405 455 L440 400 M418 470 L455 412 M430 485 L468 425 M442 500 L478 440 M455 512 L488 455"/>
<path d="M405 455 L455 512 M440 400 L488 455 M425 425 L472 478"/>
<path d="M430 380 L425 400 L440 400"/>
<!-- lower boss -->
<ellipse cx="392" cy="580" rx="22" ry="26" transform="rotate(-15 392 580)"/>
<ellipse cx="392" cy="580" rx="9" ry="12" transform="rotate(-15 392 580)"/>
<path d="M396 555 L432 540 C445 545 450 562 445 578 L410 602"/>
<!-- pin 14 -->
<path d="M92 408 L195 360 C205 362 210 378 205 390 L105 440"/>
<ellipse cx="100" cy="424" rx="12" ry="17" transform="rotate(-15 100 424)"/>
<ellipse cx="101" cy="424" rx="6" ry="10" transform="rotate(-15 101 424)"/>
</g>

<!-- part 29 switch (frame W: origin 500,750 scale 100/639) -->
<g id="p29" transform="translate(500,750) scale(0.1565)">
<g class="ln">
<path d="M165 122 L215 76 L250 70 L380 135 C395 128 410 124 422 126 C440 140 455 165 458 195 C460 240 452 285 438 315 C425 345 405 365 388 372 C365 380 320 378 288 366 C272 355 264 335 260 300 L160 256 Z"/>
<path d="M165 122 L285 205 C300 175 335 150 380 135"/>
<path d="M285 205 C272 240 265 275 262 300"/>
<path d="M298 210 C312 185 345 162 385 148"/>
<path d="M222 86 L262 80 L272 104 L232 112 Z M232 84 L240 110 M244 82 L252 108 M254 81 L262 106 M225 94 L268 88 M228 103 L270 97"/>
<path d="M262 285 C272 290 276 305 270 318"/>
<path d="M135 165 L186 186 L186 216 L140 200 Z M135 165 L148 158 L196 178 L186 186"/>
<path d="M60 140 L135 170 M55 186 L140 205"/>
</g>
<text transform="translate(378,268) rotate(-38)" font-family="'Liberation Sans','DejaVu Sans',sans-serif" font-weight="bold" font-style="italic" font-size="30" fill="#333">UP</text>
<text transform="translate(340,368) rotate(-14)" font-family="'Liberation Sans','DejaVu Sans',sans-serif" font-weight="bold" font-size="48" fill="#333" letter-spacing="10">DN</text>
</g>

<!-- screws 20,19,34,27, washers 24, emblem 30, wires (frame R: origin 385,745 scale 1/4) -->
<g id="pR" class="ln" transform="translate(385,745) scale(0.25)">
<ellipse cx="56" cy="162" rx="17" ry="23" transform="rotate(25 56 162)"/>
<path d="M62 140 L76 146 C84 154 84 170 76 178 L58 184"/>
<path d="M48 158 L62 166 M52 170 L60 154"/>
<path d="M84.4 159.8 L168.6 112.5 L176.0 98.0 L159.8 96.8 L75.6 144.2 M90.7 156.3 L76.4 143.7 M97.7 152.4 L83.4 139.8 M104.7 148.4 L90.4 135.8 M111.7 144.5 L97.4 131.9 M118.7 140.5 L104.4 127.9 M125.8 136.6 L111.4 124.0 M132.8 132.6 L118.5 120.0 M139.8 128.7 L125.5 116.1 M146.8 124.7 L132.5 112.1 M153.8 120.8 L139.5 108.2 M160.9 116.8 L146.5 104.2 M167.9 112.9 L153.6 100.3"/>
<ellipse cx="108" cy="234" rx="16" ry="22" transform="rotate(25 108 234)"/>
<path d="M114 213 L128 219 C135 227 135 242 128 250 L110 256"/>
<path d="M101 230 L114 238 M104 242 L112 226"/>
<path d="M136.5 232.8 L208.5 191.8 M199.5 176.2 L127.5 217.2 M208.5 191.8 Q208.7 181.3 199.5 176.2 M143.2 229.0 L128.8 216.5 M151.2 224.4 L136.8 211.9 M159.2 219.9 L144.8 207.3 M167.2 215.3 L152.8 202.8 M175.2 210.8 L160.8 198.2 M183.2 206.2 L168.8 193.7 M191.2 201.7 L176.8 189.1 M199.2 197.1 L184.8 184.6 M207.2 192.5 L192.8 180.0"/>
<ellipse cx="180" cy="372" rx="16" ry="21" transform="rotate(25 180 372)"/>
<path d="M186 352 L198 357 C205 364 205 378 198 386 L182 393"/>
<path d="M173 368 L186 376 M176 380 L184 364"/>
<path d="M206.0 370.9 L233.6 354.9 L240.0 342.0 L225.6 341.1 L198.0 357.1 M211.2 367.9 L198.3 356.9 M216.7 364.7 L203.9 353.7 M222.2 361.5 L209.4 350.5 M227.8 358.3 L214.9 347.3 M233.3 355.1 L220.4 344.1"/>
<path style="stroke-width:1.9" d="M174 72 L182 62 L196 66 L203 80 L200 96 L190 103 L178 96 Z"/>
<ellipse cx="189" cy="83" rx="6" ry="9" transform="rotate(20 189 83)"/>
<path d="M174 72 L180 84 L178 96 M180 84 L186 74"/>
<path style="stroke-width:1.9" d="M216 152 L224 142 L238 146 L245 160 L242 176 L232 183 L220 176 Z"/>
<ellipse cx="231" cy="163" rx="6" ry="9" transform="rotate(20 231 163)"/>
<path d="M216 152 L222 164 L220 176 M222 164 L228 154"/>
<path style="stroke-width:1.9" d="M254 312 L262 302 L276 306 L283 320 L280 336 L270 343 L258 336 Z"/>
<ellipse cx="269" cy="323" rx="6" ry="9" transform="rotate(20 269 323)"/>
<path d="M254 312 L260 324 L258 336 M260 324 L266 314"/>
<path d="M478 392 C470 372 482 345 498 332 C508 328 516 336 514 346 C508 368 500 392 492 410 Z"/>
<path d="M492 336 C498 342 506 344 512 340"/>
<path d="M480 398 C470 415 440 425 420 440 C405 455 402 500 404 545"/>
<path d="M488 408 C478 425 455 432 440 445 C428 460 424 500 424 540"/>
<path d="M494 412 C486 432 468 440 458 452 C448 468 446 500 446 532"/>
<path d="M432 442 C420 458 416 500 416 542 M452 450 C440 468 436 500 436 536"/>
<path d="M398 548 L455 528 L462 540 L462 572 L440 582 L436 566 L424 570 L424 590 L402 596 L396 580 Z"/>
<path d="M398 548 L404 562 L462 542 M404 562 L402 596"/>
</g>

<!-- emblem 30 + screw 27 (frame T: origin 380,850 scale 100/639) -->
<g id="pT" class="ln" transform="translate(380,850) scale(0.1565)">
<ellipse cx="415" cy="295" rx="108" ry="210" transform="rotate(37 415 295)"/>
<path d="M283 330 C282 380 300 430 345 468"/>
<path d="M420 185 L525 195 L480 246 L398 238 Z M432 215 L500 204"/>
<path d="M398 238 L335 298 L470 330 L520 270 L480 246"/>
<path d="M350 300 L505 275"/>
<path d="M395 318 L340 372 L430 386 L470 330 M352 360 L440 345"/>
<ellipse cx="270" cy="208" rx="36" ry="60" transform="rotate(-22 270 208)"/>
<path d="M255 200 L290 215 M266 228 L280 190"/>
<path d="M238 160 L262 152 M222 216 L262 262"/>
<path d="M50.3 120.1 L220.3 210.1 M73.7 75.9 L243.7 165.9 M50.3 120.1 Q46.5 89.8 73.7 75.9 M61.6 126.1 Q85.5 110.4 85.0 81.9 M80.5 136.1 Q104.4 120.4 103.9 91.9 M99.4 146.1 Q123.3 130.4 122.8 101.9 M118.3 156.1 Q142.2 140.4 141.7 111.9 M137.2 166.1 Q161.0 150.4 160.6 121.9 M156.1 176.1 Q179.9 160.4 179.5 131.9 M175.0 186.1 Q198.8 170.4 198.4 141.9 M193.9 196.1 Q217.7 180.4 217.3 151.9 M212.7 206.1 Q236.6 190.4 236.1 161.9"/>
</g>

<!-- FWD arrow (frame S: origin 15,860 scale 80/639) -->
<g id="fwd" transform="translate(15,860) scale(0.1252)">
<path d="M75 355 L185 178 L205 188 L208 202 L440 78 L462 92 L462 232 L215 365 L212 428 Z" fill="#fff" stroke="#222" stroke-width="8" stroke-linejoin="round"/>
<path d="M98 366 L200 202 L212 230 L455 102 L458 228 L212 360 L210 424 Z" fill="#1a1a1a" stroke="#1a1a1a" stroke-width="4" stroke-linejoin="round"/>
<text transform="matrix(0.74,-0.40,0,1,220,338)" x="0" y="0" font-family="'Liberation Sans','DejaVu Sans',sans-serif" font-weight="bold" font-size="136" fill="#fff">FWD</text>
</g>

<!-- ===== LABELS & LEADERS ===== -->
<g id="leaders" class="ld">
<path d="M409 106 L409 130 M194.3 119.5 L194.3 139.5 M253.3 133 L253.3 150 M279.5 140 L279.5 158 M387.5 150 L387.5 170 M430.5 178.8 L430.5 201 M383.3 216 L383.3 236 M455.5 216 L455.5 236 M484.3 245 L484.3 265 M456.2 426.7 L456.2 446 M404 508.5 L404 527.5 M281 569.5 L304 569.5 M245.8 603.8 L245.8 631 M232 664.5 L256 664.5 M322.5 640.5 L322.5 664 M285 685 L292 685 M229.3 721 L229.3 746 M271 734.5 L284.5 734.5 M313 755.5 L336 755.5 M150 622.5 L172.5 622.5 M112 638.8 L112 665 M132 651 L132 673.8 M368.3 584.5 L368.3 611 M459.5 622.5 L459.5 646 M481.4 677 L481.4 702.5 M567.4 642 L567.4 666 M526 691.5 L526 716 M431.5 736 L431.5 760 M408.9 752.5 L408.9 778 M444.2 793 L444.2 800 M413 807.5 L413 822.5 M453.5 830.5 L453.5 840 M430.8 843.8 L430.8 853.8 M474.3 861 L474.3 870 M474.3 870 L467.5 880 M404.3 879 L404.3 901 M545 810 L545 835 M261.5 410 L261.5 424 L574.5 606.7 M547.4 429.8 L547.4 590.2 M574.5 503 L574.5 557.5 M574.5 572.5 L574.5 606.7"/>
</g>
<g id="labels" class="num" text-anchor="middle">
<text x="408.8" y="104">1</text>
<text x="193.8" y="117">18</text>
<text x="253.0" y="130.8">22</text>
<text x="278.5" y="138.3">28</text>
<text x="387.5" y="148.3">21</text>
<text x="430.2" y="177">23</text>
<text x="383.0" y="213.8">33</text>
<text x="455.0" y="214.5">4</text>
<text x="483.0" y="243">3</text>
<text x="456.5" y="461.6">2</text>
<text x="403.0" y="543.5">31</text>
<text x="575.4" y="569.4">32</text>
<text x="314.8" y="574.3">15</text>
<text x="245.4" y="642">9</text>
<text x="220.2" y="670">10</text>
<text x="322.5" y="638">17</text>
<text x="302.8" y="690">12</text>
<text x="229.0" y="718.8">25</text>
<text x="295.0" y="739">11</text>
<text x="302.2" y="759.8">13</text>
<text x="142.4" y="627.5">5</text>
<text x="111.7" y="637">16</text>
<text x="132.2" y="648.8">26</text>
<text x="368.5" y="582.5">12</text>
<text x="459.5" y="620.5">8</text>
<text x="481.2" y="675">6</text>
<text x="567.2" y="639.2">7</text>
<text x="526.2" y="689.5">14</text>
<text x="431.8" y="733.8">24</text>
<text x="408.8" y="750">20</text>
<text x="444.0" y="812.8">24</text>
<text x="413.2" y="834">19</text>
<text x="454.5" y="852">24</text>
<text x="430.9" y="865.5">34</text>
<text x="474.0" y="859">30</text>
<text x="404.2" y="913.5">27</text>
<text x="545.0" y="846.8">29</text>
</g>



</svg>
</body>
</html>
